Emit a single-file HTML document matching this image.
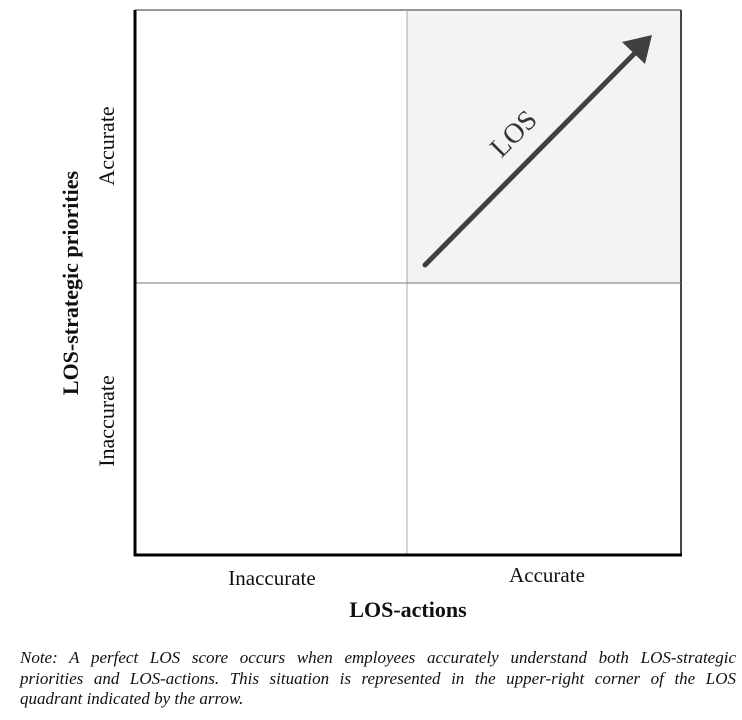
<!DOCTYPE html>
<html><head><meta charset="utf-8"><style>
html,body{margin:0;padding:0;background:#fff;}
body{width:742px;height:720px;position:relative;overflow:hidden;font-family:"Liberation Serif",serif;}
.note{position:absolute;left:20px;top:648px;width:716px;font-style:italic;font-size:17px;line-height:20.5px;color:#111;}
.note .j{text-align:justify;text-align-last:justify;white-space:nowrap;}
</style></head><body>
<svg width="742" height="640" style="position:absolute;left:0;top:0">
<rect x="407" y="10" width="274" height="273" fill="#f3f3f3"/>
<line x1="135" y1="10" x2="681" y2="10" stroke="#777" stroke-width="1.5"/>
<line x1="681" y1="10" x2="681" y2="555" stroke="#444" stroke-width="2"/>
<line x1="407" y1="10" x2="407" y2="555" stroke="#aaa" stroke-width="1"/>
<line x1="135" y1="283" x2="681" y2="283" stroke="#777" stroke-width="1"/>
<line x1="135" y1="10" x2="135" y2="556" stroke="#000" stroke-width="3"/>
<line x1="134" y1="555" x2="682" y2="555" stroke="#000" stroke-width="3"/>
<g>
<line x1="425" y1="265" x2="636" y2="52" stroke="#404040" stroke-width="5" stroke-linecap="round"/>
<polygon points="652,35 645,64 622,42" fill="#404040"/>
</g>
<text x="520" y="140" transform="rotate(-45 520 140)" text-anchor="middle" font-size="28" fill="#333">LOS</text>
<text transform="translate(114,146) rotate(-90)" text-anchor="middle" font-size="22" fill="#111">Accurate</text>
<text transform="translate(114,421) rotate(-90)" text-anchor="middle" font-size="22" fill="#111">Inaccurate</text>
<text transform="translate(78,283) rotate(-90)" text-anchor="middle" font-size="22" font-weight="bold" fill="#111">LOS-strategic priorities</text>
<text x="272" y="585" text-anchor="middle" font-size="21" fill="#111">Inaccurate</text>
<text x="547" y="582" text-anchor="middle" font-size="21" fill="#111">Accurate</text>
<text x="408" y="617" text-anchor="middle" font-size="22" font-weight="bold" fill="#111">LOS-actions</text>
</svg>
<div class="note"><div class="j">Note: A perfect LOS score occurs when employees accurately understand both LOS-strategic</div><div class="j">priorities and LOS-actions. This situation is represented in the upper-right corner of the LOS</div><div>quadrant indicated by the arrow.</div></div>
</body></html>
